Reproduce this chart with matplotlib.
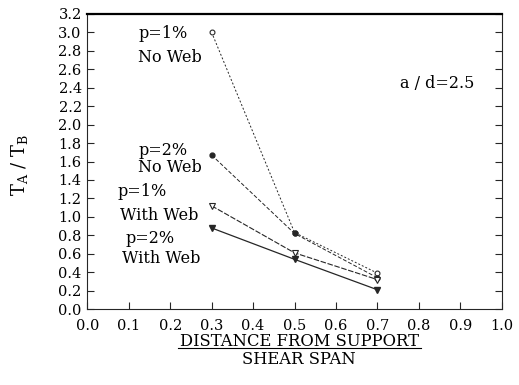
import matplotlib
matplotlib.use("Agg")
import matplotlib.pyplot as plt
from matplotlib.lines import Line2D

plt.rcParams['font.family'] = ['DejaVu Serif']
plt.rcParams['mathtext.fontset'] = 'dejavuserif'

# data
x = [0.3, 0.5, 0.7]
p1_noweb = [3.0, 0.83, 0.39]
p2_noweb = [1.67, 0.82, 0.34]
p1_web = [1.12, 0.61, 0.32]
p2_web = [0.88, 0.54, 0.21]

xticks = [i / 10 for i in range(11)]
yticks = [i / 5 for i in range(17)]

fig = plt.figure(figsize=(5.19, 3.85), dpi=100)
ax = fig.add_axes([0.168, 0.197, 0.799, 0.767])

ink = '0.15'
ax.plot(x, p1_noweb, color=ink, lw=0.7, ls=(0, (2, 2)), marker='o', ms=3.5,
        mfc='white', mec=ink, mew=0.8)
ax.plot(x, p2_noweb, color=ink, lw=0.7, ls=(0, (4, 2)), marker='o', ms=3.5,
        mfc=ink, mec=ink)
ax.plot(x, p1_web, color=ink, lw=0.8, ls=(0, (5, 1.5)), marker='v', ms=4,
        mfc='white', mec=ink, mew=0.8)
ax.plot(x, p2_web, color=ink, lw=0.9, ls='-', marker='v', ms=4,
        mfc=ink, mec=ink)

fs = 10.5
afs = 11.5
ax.text(0.123, 2.99, 'p=1%', fontsize=afs, va='center')
ax.text(0.123, 2.73, 'No Web', fontsize=afs, va='center')
ax.text(0.123, 1.72, 'p=2%', fontsize=afs, va='center')
ax.text(0.123, 1.53, 'No Web', fontsize=afs, va='center')
ax.text(0.072, 1.27, 'p=1%', fontsize=afs, va='center')
ax.text(0.080, 1.02, 'With Web', fontsize=afs, va='center')
ax.text(0.092, 0.77, 'p=2%', fontsize=afs, va='center')
ax.text(0.084, 0.55, 'With Web', fontsize=afs, va='center')
ax.text(0.843, 2.45, 'a / d=2.5', fontsize=afs, ha='center', va='center')

ax.set_xlim(0, 1.0)
ax.set_ylim(0, 3.2)
ax.set_xticks(xticks)
ax.set_yticks(yticks)
ax.set_xticklabels([f'{t:.1f}' for t in xticks], fontsize=fs)
ax.set_yticklabels([f'{t:.1f}' for t in yticks], fontsize=fs)
ax.tick_params(direction='in', length=5, width=0.8, color=ink,
               right=True, top=False, labelcolor='black')
ax.tick_params(axis='x', pad=7)
ax.tick_params(axis='y', pad=4)
for side in ['left', 'right', 'bottom']:
    ax.spines[side].set_linewidth(0.8)
    ax.spines[side].set_color(ink)
ax.spines['top'].set_linewidth(1.6)

fig.text(20 / 519, 1 - 165 / 385, r'T$_\mathrm{A}$ / T$_\mathrm{B}$',
         rotation=90, fontsize=13, ha='center', va='center')

fig.text(299 / 519, 1 - 346 / 385, 'DISTANCE FROM SUPPORT', fontsize=11.8,
         ha='center', va='baseline')
fig.text(299 / 519, 1 - 351 / 385, 'SHEAR SPAN', fontsize=11.8,
         ha='center', va='top')
fig.add_artist(Line2D([178 / 519, 421 / 519], [1 - 348 / 385, 1 - 348 / 385],
                      color='black', lw=0.8))

fig.savefig('out.png', dpi=100)
